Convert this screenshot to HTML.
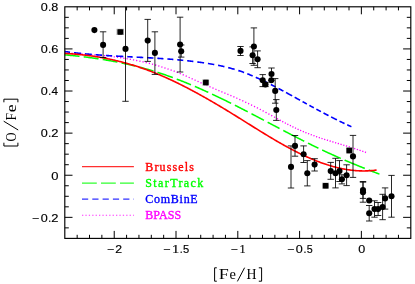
<!DOCTYPE html>
<html><head><meta charset="utf-8"><title>plot</title>
<style>html,body{margin:0;padding:0;background:#fff;}svg{display:block;will-change:transform;}text{font-family:"Liberation Sans",sans-serif;}.s{font-family:"Liberation Serif",serif;}</style></head><body>
<svg width="415" height="284" viewBox="0 0 415 284">
<rect width="415" height="284" fill="#fff"/>
<g fill="none" stroke-linecap="butt" stroke-linejoin="round">
<path d="M64.80,52.91 L65.55,52.95 L66.31,52.99 L67.06,53.03 L67.82,53.07 L68.57,53.11 L69.33,53.15 L70.08,53.19 L70.84,53.23 L71.59,53.28 L72.35,53.32 L73.10,53.36 L73.86,53.40 L74.61,53.45 L75.37,53.49 L76.12,53.53 L76.88,53.58 L77.63,53.62 L78.39,53.67 L79.14,53.72 L79.90,53.76 L80.65,53.81 L81.41,53.86 L82.16,53.91 L82.92,53.96 L83.67,54.01 L84.43,54.06 L85.18,54.11 L85.94,54.16 L86.69,54.22 L87.45,54.27 L88.20,54.33 L88.96,54.38 L89.71,54.44 L90.47,54.49 L91.22,54.55 L91.98,54.61 L92.73,54.67 L93.49,54.73 L94.24,54.80 L95.00,54.86 L95.75,54.92 L96.51,54.99 L97.26,55.05 L98.02,55.12 L98.77,55.19 L99.52,55.26 L100.28,55.33 L101.03,55.40 L101.79,55.47 L102.54,55.55 L103.30,55.62 L104.05,55.70 L104.81,55.78 L105.56,55.86 L106.32,55.94 L107.07,56.02 L107.83,56.10 L108.58,56.19 L109.34,56.28 L110.09,56.36 L110.85,56.45 L111.60,56.54 L112.36,56.63 L113.11,56.73 L113.87,56.82 L114.62,56.92 L115.38,57.02 L116.13,57.12 L116.89,57.22 L117.64,57.32 L118.40,57.43 L119.15,57.53 L119.91,57.64 L120.66,57.75 L121.42,57.86 L122.17,57.97 L122.93,58.09 L123.68,58.21 L124.44,58.33 L125.19,58.45 L125.95,58.57 L126.70,58.69 L127.46,58.82 L128.21,58.95 L128.97,59.08 L129.72,59.21 L130.48,59.34 L131.23,59.48 L131.98,59.62 L132.74,59.76 L133.49,59.90 L134.25,60.04 L135.00,60.19 L135.76,60.34 L136.51,60.49 L137.27,60.64 L138.02,60.80 L138.78,60.95 L139.53,61.11 L140.29,61.27 L141.04,61.44 L141.80,61.61 L142.55,61.77 L143.31,61.94 L144.06,62.12 L144.82,62.29 L145.57,62.47 L146.33,62.65 L147.08,62.84 L147.84,63.02 L148.59,63.21 L149.35,63.40 L150.10,63.59 L150.86,63.79 L151.61,63.99 L152.37,64.19 L153.12,64.39 L153.88,64.60 L154.63,64.81 L155.39,65.02 L156.14,65.23 L156.90,65.45 L157.65,65.67 L158.41,65.89 L159.16,66.12 L159.92,66.35 L160.67,66.58 L161.43,66.81 L162.18,67.05 L162.94,67.29 L163.69,67.53 L164.45,67.77 L165.20,68.02 L165.95,68.27 L166.71,68.53 L167.46,68.79 L168.22,69.05 L168.97,69.31 L169.73,69.58 L170.48,69.85 L171.24,70.12 L171.99,70.39 L172.75,70.67 L173.50,70.96 L174.26,71.24 L175.01,71.53 L175.77,71.82 L176.52,72.12 L177.28,72.42 L178.03,72.72 L178.79,73.02 L179.54,73.33 L180.30,73.64 L181.05,73.96 L181.81,74.27 L182.56,74.59 L183.32,74.92 L184.07,75.24 L184.83,75.57 L185.58,75.90 L186.34,76.23 L187.09,76.56 L187.85,76.89 L188.60,77.23 L189.36,77.57 L190.11,77.91 L190.87,78.24 L191.62,78.58 L192.38,78.93 L193.13,79.27 L193.89,79.61 L194.64,79.95 L195.40,80.30 L196.15,80.64 L196.91,80.98 L197.66,81.33 L198.42,81.67 L199.17,82.01 L199.92,82.35 L200.68,82.69 L201.43,83.03 L202.19,83.37 L202.94,83.71 L203.70,84.05 L204.45,84.38 L205.21,84.71 L205.96,85.05 L206.72,85.38 L207.47,85.70 L208.23,86.03 L208.98,86.36 L209.74,86.68 L210.49,87.01 L211.25,87.33 L212.00,87.65 L212.76,87.97 L213.51,88.29 L214.27,88.61 L215.02,88.93 L215.78,89.25 L216.53,89.56 L217.29,89.88 L218.04,90.20 L218.80,90.51 L219.55,90.83 L220.31,91.15 L221.06,91.46 L221.82,91.78 L222.57,92.09 L223.33,92.41 L224.08,92.73 L224.84,93.05 L225.59,93.36 L226.35,93.68 L227.10,94.00 L227.86,94.32 L228.61,94.64 L229.37,94.96 L230.12,95.29 L230.88,95.61 L231.63,95.93 L232.38,96.26 L233.14,96.59 L233.89,96.92 L234.65,97.25 L235.40,97.58 L236.16,97.91 L236.91,98.25 L237.67,98.58 L238.42,98.92 L239.18,99.26 L239.93,99.60 L240.69,99.94 L241.44,100.29 L242.20,100.64 L242.95,100.98 L243.71,101.33 L244.46,101.68 L245.22,102.04 L245.97,102.39 L246.73,102.75 L247.48,103.11 L248.24,103.47 L248.99,103.83 L249.75,104.19 L250.50,104.56 L251.26,104.92 L252.01,105.29 L252.77,105.67 L253.52,106.04 L254.28,106.41 L255.03,106.79 L255.79,107.17 L256.54,107.55 L257.30,107.94 L258.05,108.32 L258.81,108.71 L259.56,109.10 L260.32,109.49 L261.07,109.89 L261.83,110.28 L262.58,110.68 L263.34,111.08 L264.09,111.49 L264.85,111.89 L265.60,112.30 L266.35,112.71 L267.11,113.12 L267.86,113.53 L268.62,113.95 L269.37,114.36 L270.13,114.78 L270.88,115.19 L271.64,115.61 L272.39,116.03 L273.15,116.44 L273.90,116.86 L274.66,117.28 L275.41,117.69 L276.17,118.11 L276.92,118.53 L277.68,118.94 L278.43,119.36 L279.19,119.77 L279.94,120.18 L280.70,120.59 L281.45,121.00 L282.21,121.41 L282.96,121.81 L283.72,122.22 L284.47,122.62 L285.23,123.01 L285.98,123.41 L286.74,123.80 L287.49,124.19 L288.25,124.58 L289.00,124.97 L289.76,125.35 L290.51,125.72 L291.27,126.10 L292.02,126.47 L292.78,126.83 L293.53,127.20 L294.29,127.56 L295.04,127.91 L295.80,128.26 L296.55,128.61 L297.31,128.96 L298.06,129.30 L298.82,129.64 L299.57,129.97 L300.32,130.30 L301.08,130.63 L301.83,130.95 L302.59,131.28 L303.34,131.59 L304.10,131.91 L304.85,132.22 L305.61,132.53 L306.36,132.83 L307.12,133.14 L307.87,133.44 L308.63,133.73 L309.38,134.03 L310.14,134.32 L310.89,134.60 L311.65,134.89 L312.40,135.17 L313.16,135.45 L313.91,135.72 L314.67,135.99 L315.42,136.26 L316.18,136.53 L316.93,136.79 L317.69,137.06 L318.44,137.32 L319.20,137.57 L319.95,137.83 L320.71,138.08 L321.46,138.33 L322.22,138.58 L322.97,138.83 L323.73,139.07 L324.48,139.32 L325.24,139.56 L325.99,139.80 L326.75,140.04 L327.50,140.27 L328.26,140.51 L329.01,140.75 L329.77,140.98 L330.52,141.21 L331.28,141.44 L332.03,141.67 L332.78,141.90 L333.54,142.13 L334.29,142.36 L335.05,142.59 L335.80,142.82 L336.56,143.04 L337.31,143.27 L338.07,143.50 L338.82,143.72 L339.58,143.95 L340.33,144.18 L341.09,144.40 L341.84,144.63 L342.60,144.86 L343.35,145.08 L344.11,145.31 L344.86,145.54 L345.62,145.77 L346.37,146.00 L347.13,146.23 L347.88,146.46 L348.64,146.69 L349.39,146.93 L350.15,147.16 L350.90,147.40 L351.66,147.63 L352.41,147.87 L353.17,148.11 L353.92,148.35 L354.68,148.60 L355.43,148.84 L356.19,149.09 L356.94,149.34 L357.70,149.59 L358.45,149.84 L359.21,150.09 L359.96,150.35 L360.72,150.61 L361.47,150.87 L362.23,151.14 L362.98,151.40 L363.74,151.67 L364.49,151.94 L365.25,152.22 L366.00,152.49" stroke="#ff00ff" stroke-width="1.35" stroke-dasharray="0.00 0.30 1.20 2.05 1.20 2.05 1.20 2.05 1.20 2.05 1.20 2.05 1.20 2.05 1.20 2.05 1.20 2.05 1.20 2.05 1.20 2.05 1.20 2.05 1.20 2.05 1.20 2.05 1.20 2.05 1.20 2.05 1.20 2.05 1.20 2.05 1.20 2.05 1.20 2.05 1.20 2.05 1.20 2.05 1.20 2.05 1.20 2.05 1.20 2.05 1.20 2.05 1.20 2.05 1.20 2.05 1.20 2.05 1.20 2.05 1.20 2.05 1.20 2.05 1.20 2.05 1.20 2.05 1.20 2.05 1.20 2.05 1.20 2.05 1.20 2.05 1.20 2.05 1.20 2.05 1.20 2.05 1.20 2.05 1.20 2.05 1.20 2.05 1.20 2.05 1.20 2.05 1.20 2.05 1.20 2.05 1.20 2.05 1.20 2.05 1.20 2.05 1.20 2.05 1.20 2.05 1.20 2.05 1.20 2.05 1.20 2.05 1.20 2.05 1.20 2.05 1.20 2.05 1.20 2.05 1.20 2.05 1.20 2.05 1.20 2.05 1.20 2.05 1.20 2.05 1.20 2.05 1.20 2.05 1.20 2.05 1.20 2.05 1.20 2.05 1.20 2.05 1.20 1.65 1.20 1.65 1.20 1.65 1.20 1.65 1.20 1.65 1.20 1.65 1.20 1.65 1.20 1.65 1.20 1.65 1.20 1.65 1.20 1.65 1.20 1.65 1.20 1.65 1.20 1.65 1.20 1.65 1.20 1.65 1.20 1.65 1.20 1.65 1.20 1.65 1.20 1.65 1.20 1.65 1.20 1.65 1.20 1.65 1.20 1.65 1.20 1.65 1.20 1.65 1.20 1.65 1.20 1.65 1.20 1.65 1.20 1.65 1.20 1.65 1.20 1.65 1.20 5.00"/>
<path d="M64.80,51.52 L65.52,51.62 L66.24,51.72 L66.95,51.81 L67.67,51.91 L68.39,52.00 L69.11,52.09 L69.83,52.18 L70.55,52.27 L71.26,52.36 L71.98,52.45 L72.70,52.54 L73.42,52.62 L74.14,52.71 L74.86,52.79 L75.57,52.87 L76.29,52.95 L77.01,53.03 L77.73,53.11 L78.45,53.19 L79.17,53.26 L79.88,53.34 L80.60,53.41 L81.32,53.48 L82.04,53.56 L82.76,53.63 L83.48,53.70 L84.19,53.77 L84.91,53.83 L85.63,53.90 L86.35,53.97 L87.07,54.03 L87.79,54.10 L88.50,54.16 L89.22,54.22 L89.94,54.29 L90.66,54.35 L91.38,54.41 L92.10,54.47 L92.81,54.52 L93.53,54.58 L94.25,54.64 L94.97,54.70 L95.69,54.75 L96.41,54.81 L97.12,54.86 L97.84,54.91 L98.56,54.97 L99.28,55.02 L100.00,55.07 L100.71,55.12 L101.43,55.17 L102.15,55.22 L102.87,55.27 L103.59,55.32 L104.31,55.36 L105.02,55.41 L105.74,55.46 L106.46,55.50 L107.18,55.55 L107.90,55.59 L108.62,55.64 L109.33,55.68 L110.05,55.73 L110.77,55.77 L111.49,55.81 L112.21,55.85 L112.93,55.90 L113.64,55.94 L114.36,55.98 L115.08,56.02 L115.80,56.06 L116.52,56.10 L117.24,56.14 L117.95,56.18 L118.67,56.22 L119.39,56.26 L120.11,56.30 L120.83,56.33 L121.55,56.37 L122.26,56.41 L122.98,56.45 L123.70,56.49 L124.42,56.52 L125.14,56.56 L125.86,56.60 L126.57,56.64 L127.29,56.67 L128.01,56.71 L128.73,56.75 L129.45,56.78 L130.16,56.82 L130.88,56.85 L131.60,56.89 L132.32,56.93 L133.04,56.96 L133.76,57.00 L134.47,57.04 L135.19,57.07 L135.91,57.11 L136.63,57.15 L137.35,57.18 L138.07,57.22 L138.78,57.26 L139.50,57.29 L140.22,57.33 L140.94,57.37 L141.66,57.41 L142.38,57.44 L143.09,57.48 L143.81,57.52 L144.53,57.56 L145.25,57.60 L145.97,57.63 L146.69,57.67 L147.40,57.71 L148.12,57.75 L148.84,57.79 L149.56,57.83 L150.28,57.87 L151.00,57.91 L151.71,57.95 L152.43,58.00 L153.15,58.04 L153.87,58.08 L154.59,58.12 L155.31,58.17 L156.02,58.21 L156.74,58.25 L157.46,58.30 L158.18,58.34 L158.90,58.39 L159.62,58.44 L160.33,58.48 L161.05,58.53 L161.77,58.58 L162.49,58.63 L163.21,58.68 L163.92,58.72 L164.64,58.77 L165.36,58.83 L166.08,58.88 L166.80,58.93 L167.52,58.98 L168.23,59.04 L168.95,59.09 L169.67,59.14 L170.39,59.20 L171.11,59.26 L171.83,59.31 L172.54,59.37 L173.26,59.43 L173.98,59.49 L174.70,59.55 L175.42,59.61 L176.14,59.67 L176.85,59.74 L177.57,59.80 L178.29,59.86 L179.01,59.93 L179.73,60.00 L180.45,60.06 L181.16,60.13 L181.88,60.20 L182.60,60.27 L183.32,60.34 L184.04,60.41 L184.76,60.49 L185.47,60.56 L186.19,60.64 L186.91,60.71 L187.63,60.79 L188.35,60.87 L189.07,60.95 L189.78,61.03 L190.50,61.11 L191.22,61.19 L191.94,61.28 L192.66,61.36 L193.37,61.45 L194.09,61.54 L194.81,61.63 L195.53,61.72 L196.25,61.81 L196.97,61.90 L197.68,61.99 L198.40,62.09 L199.12,62.19 L199.84,62.28 L200.56,62.38 L201.28,62.48 L201.99,62.58 L202.71,62.69 L203.43,62.79 L204.15,62.90 L204.87,63.01 L205.59,63.11 L206.30,63.22 L207.02,63.34 L207.74,63.45 L208.46,63.56 L209.18,63.68 L209.90,63.80 L210.61,63.92 L211.33,64.04 L212.05,64.17 L212.77,64.29 L213.49,64.42 L214.21,64.55 L214.92,64.68 L215.64,64.82 L216.36,64.95 L217.08,65.09 L217.80,65.24 L218.52,65.38 L219.23,65.53 L219.95,65.67 L220.67,65.83 L221.39,65.98 L222.11,66.14 L222.83,66.30 L223.54,66.46 L224.26,66.62 L224.98,66.79 L225.70,66.96 L226.42,67.14 L227.13,67.32 L227.85,67.50 L228.57,67.68 L229.29,67.87 L230.01,68.06 L230.73,68.25 L231.44,68.45 L232.16,68.65 L232.88,68.86 L233.60,69.06 L234.32,69.28 L235.04,69.49 L235.75,69.71 L236.47,69.93 L237.19,70.16 L237.91,70.39 L238.63,70.63 L239.35,70.87 L240.06,71.11 L240.78,71.36 L241.50,71.61 L242.22,71.86 L242.94,72.12 L243.66,72.38 L244.37,72.65 L245.09,72.92 L245.81,73.19 L246.53,73.47 L247.25,73.74 L247.97,74.03 L248.68,74.31 L249.40,74.60 L250.12,74.90 L250.84,75.19 L251.56,75.49 L252.28,75.79 L252.99,76.10 L253.71,76.41 L254.43,76.72 L255.15,77.03 L255.87,77.35 L256.58,77.67 L257.30,77.99 L258.02,78.32 L258.74,78.64 L259.46,78.97 L260.18,79.31 L260.89,79.64 L261.61,79.98 L262.33,80.32 L263.05,80.66 L263.77,81.00 L264.49,81.35 L265.20,81.70 L265.92,82.05 L266.64,82.40 L267.36,82.76 L268.08,83.12 L268.80,83.48 L269.51,83.84 L270.23,84.20 L270.95,84.56 L271.67,84.93 L272.39,85.30 L273.11,85.67 L273.82,86.04 L274.54,86.41 L275.26,86.78 L275.98,87.16 L276.70,87.53 L277.42,87.91 L278.13,88.29 L278.85,88.67 L279.57,89.05 L280.29,89.44 L281.01,89.82 L281.73,90.21 L282.44,90.59 L283.16,90.98 L283.88,91.36 L284.60,91.75 L285.32,92.14 L286.04,92.53 L286.75,92.92 L287.47,93.31 L288.19,93.70 L288.91,94.10 L289.63,94.49 L290.34,94.88 L291.06,95.28 L291.78,95.67 L292.50,96.06 L293.22,96.46 L293.94,96.85 L294.65,97.25 L295.37,97.64 L296.09,98.04 L296.81,98.43 L297.53,98.83 L298.25,99.22 L298.96,99.62 L299.68,100.02 L300.40,100.41 L301.12,100.81 L301.84,101.20 L302.56,101.60 L303.27,102.00 L303.99,102.39 L304.71,102.79 L305.43,103.18 L306.15,103.58 L306.87,103.97 L307.58,104.37 L308.30,104.76 L309.02,105.16 L309.74,105.55 L310.46,105.94 L311.18,106.33 L311.89,106.73 L312.61,107.12 L313.33,107.51 L314.05,107.90 L314.77,108.29 L315.49,108.68 L316.20,109.07 L316.92,109.46 L317.64,109.85 L318.36,110.23 L319.08,110.62 L319.79,111.00 L320.51,111.39 L321.23,111.77 L321.95,112.15 L322.67,112.54 L323.39,112.92 L324.10,113.30 L324.82,113.68 L325.54,114.05 L326.26,114.43 L326.98,114.81 L327.70,115.18 L328.41,115.55 L329.13,115.93 L329.85,116.30 L330.57,116.67 L331.29,117.04 L332.01,117.40 L332.72,117.77 L333.44,118.13 L334.16,118.50 L334.88,118.86 L335.60,119.22 L336.32,119.58 L337.03,119.93 L337.75,120.29 L338.47,120.64 L339.19,121.00 L339.91,121.35 L340.63,121.70 L341.34,122.04 L342.06,122.39 L342.78,122.73 L343.50,123.08 L344.22,123.42 L344.94,123.76 L345.65,124.09 L346.37,124.43 L347.09,124.76 L347.81,125.09 L348.53,125.42 L349.25,125.75 L349.96,126.07 L350.68,126.39 L351.40,126.71" stroke="#0000ff" stroke-width="1.6" stroke-dasharray="5.31 3.90 7.27 3.90 6.74 3.90 6.43 3.90 6.22 3.90 7.32 3.90 5.51 3.90 6.61 3.90 6.32 3.90 6.12 3.90 6.03 3.90 6.04 3.90 6.27 3.90 6.90 3.90 6.45 3.90 6.44 3.90 6.69 3.90 6.09 3.40 5.78 3.40 5.17 3.40 4.73 3.40 5.26 3.40 5.58 2.90 7.01 2.90 6.12 2.90 4.86 2.90 5.08 2.90 5.16 2.90 5.68 2.90 6.51 2.90 5.64 2.90 4.59 0.01"/>
<path d="M64.80,54.85 L65.59,54.92 L66.38,54.99 L67.17,55.06 L67.95,55.13 L68.74,55.21 L69.53,55.28 L70.32,55.36 L71.11,55.43 L71.90,55.51 L72.69,55.59 L73.48,55.67 L74.26,55.75 L75.05,55.83 L75.84,55.92 L76.63,56.00 L77.42,56.09 L78.21,56.17 L79.00,56.26 L79.79,56.35 L80.57,56.44 L81.36,56.53 L82.15,56.62 L82.94,56.72 L83.73,56.81 L84.52,56.91 L85.31,57.00 L86.10,57.10 L86.88,57.20 L87.67,57.30 L88.46,57.40 L89.25,57.51 L90.04,57.61 L90.83,57.72 L91.62,57.82 L92.41,57.93 L93.19,58.04 L93.98,58.15 L94.77,58.27 L95.56,58.38 L96.35,58.49 L97.14,58.61 L97.93,58.73 L98.72,58.85 L99.50,58.97 L100.29,59.09 L101.08,59.21 L101.87,59.34 L102.66,59.46 L103.45,59.59 L104.24,59.72 L105.02,59.85 L105.81,59.98 L106.60,60.12 L107.39,60.25 L108.18,60.39 L108.97,60.53 L109.76,60.67 L110.55,60.81 L111.33,60.95 L112.12,61.10 L112.91,61.24 L113.70,61.39 L114.49,61.54 L115.28,61.69 L116.07,61.84 L116.86,61.99 L117.64,62.15 L118.43,62.31 L119.22,62.47 L120.01,62.63 L120.80,62.79 L121.59,62.95 L122.38,63.12 L123.17,63.28 L123.95,63.45 L124.74,63.62 L125.53,63.80 L126.32,63.97 L127.11,64.15 L127.90,64.32 L128.69,64.50 L129.48,64.68 L130.26,64.87 L131.05,65.05 L131.84,65.24 L132.63,65.42 L133.42,65.61 L134.21,65.81 L135.00,66.00 L135.78,66.20 L136.57,66.39 L137.36,66.59 L138.15,66.79 L138.94,67.00 L139.73,67.20 L140.52,67.41 L141.31,67.62 L142.09,67.83 L142.88,68.04 L143.67,68.26 L144.46,68.47 L145.25,68.69 L146.04,68.91 L146.83,69.13 L147.62,69.36 L148.40,69.58 L149.19,69.81 L149.98,70.04 L150.77,70.28 L151.56,70.51 L152.35,70.75 L153.14,70.99 L153.93,71.23 L154.71,71.47 L155.50,71.71 L156.29,71.96 L157.08,72.21 L157.87,72.46 L158.66,72.72 L159.45,72.97 L160.24,73.23 L161.02,73.49 L161.81,73.75 L162.60,74.02 L163.39,74.28 L164.18,74.55 L164.97,74.82 L165.76,75.09 L166.55,75.37 L167.33,75.64 L168.12,75.92 L168.91,76.20 L169.70,76.48 L170.49,76.77 L171.28,77.05 L172.07,77.34 L172.85,77.63 L173.64,77.92 L174.43,78.22 L175.22,78.51 L176.01,78.81 L176.80,79.11 L177.59,79.41 L178.38,79.71 L179.16,80.02 L179.95,80.32 L180.74,80.63 L181.53,80.94 L182.32,81.25 L183.11,81.57 L183.90,81.88 L184.69,82.20 L185.47,82.52 L186.26,82.84 L187.05,83.16 L187.84,83.48 L188.63,83.81 L189.42,84.13 L190.21,84.46 L191.00,84.79 L191.78,85.12 L192.57,85.45 L193.36,85.79 L194.15,86.12 L194.94,86.46 L195.73,86.80 L196.52,87.14 L197.31,87.48 L198.09,87.83 L198.88,88.17 L199.67,88.52 L200.46,88.87 L201.25,89.22 L202.04,89.57 L202.83,89.92 L203.62,90.27 L204.40,90.63 L205.19,90.98 L205.98,91.34 L206.77,91.70 L207.56,92.06 L208.35,92.42 L209.14,92.78 L209.92,93.14 L210.71,93.51 L211.50,93.88 L212.29,94.24 L213.08,94.61 L213.87,94.98 L214.66,95.35 L215.45,95.73 L216.23,96.10 L217.02,96.47 L217.81,96.85 L218.60,97.23 L219.39,97.60 L220.18,97.98 L220.97,98.36 L221.76,98.74 L222.54,99.12 L223.33,99.51 L224.12,99.89 L224.91,100.28 L225.70,100.66 L226.49,101.05 L227.28,101.44 L228.07,101.83 L228.85,102.22 L229.64,102.61 L230.43,103.00 L231.22,103.39 L232.01,103.79 L232.80,104.18 L233.59,104.57 L234.38,104.97 L235.16,105.37 L235.95,105.77 L236.74,106.16 L237.53,106.56 L238.32,106.96 L239.11,107.36 L239.90,107.77 L240.68,108.17 L241.47,108.57 L242.26,108.97 L243.05,109.38 L243.84,109.78 L244.63,110.19 L245.42,110.60 L246.21,111.00 L246.99,111.41 L247.78,111.82 L248.57,112.23 L249.36,112.64 L250.15,113.05 L250.94,113.46 L251.73,113.87 L252.52,114.28 L253.30,114.69 L254.09,115.10 L254.88,115.51 L255.67,115.93 L256.46,116.34 L257.25,116.75 L258.04,117.17 L258.83,117.58 L259.61,118.00 L260.40,118.41 L261.19,118.83 L261.98,119.24 L262.77,119.66 L263.56,120.07 L264.35,120.49 L265.14,120.90 L265.92,121.32 L266.71,121.74 L267.50,122.15 L268.29,122.57 L269.08,122.98 L269.87,123.40 L270.66,123.82 L271.45,124.23 L272.23,124.65 L273.02,125.07 L273.81,125.48 L274.60,125.90 L275.39,126.31 L276.18,126.73 L276.97,127.15 L277.75,127.56 L278.54,127.98 L279.33,128.39 L280.12,128.81 L280.91,129.22 L281.70,129.63 L282.49,130.05 L283.28,130.46 L284.06,130.87 L284.85,131.29 L285.64,131.70 L286.43,132.11 L287.22,132.52 L288.01,132.93 L288.80,133.34 L289.59,133.75 L290.37,134.16 L291.16,134.57 L291.95,134.98 L292.74,135.39 L293.53,135.80 L294.32,136.20 L295.11,136.61 L295.90,137.01 L296.68,137.42 L297.47,137.82 L298.26,138.23 L299.05,138.63 L299.84,139.03 L300.63,139.43 L301.42,139.83 L302.21,140.23 L302.99,140.63 L303.78,141.03 L304.57,141.42 L305.36,141.82 L306.15,142.22 L306.94,142.61 L307.73,143.00 L308.52,143.39 L309.30,143.79 L310.09,144.18 L310.88,144.56 L311.67,144.95 L312.46,145.34 L313.25,145.73 L314.04,146.11 L314.82,146.49 L315.61,146.88 L316.40,147.26 L317.19,147.64 L317.98,148.02 L318.77,148.39 L319.56,148.77 L320.35,149.14 L321.13,149.52 L321.92,149.89 L322.71,150.26 L323.50,150.63 L324.29,151.00 L325.08,151.37 L325.87,151.73 L326.66,152.10 L327.44,152.46 L328.23,152.83 L329.02,153.19 L329.81,153.55 L330.60,153.91 L331.39,154.27 L332.18,154.62 L332.97,154.98 L333.75,155.33 L334.54,155.69 L335.33,156.04 L336.12,156.39 L336.91,156.74 L337.70,157.09 L338.49,157.44 L339.28,157.78 L340.06,158.13 L340.85,158.47 L341.64,158.82 L342.43,159.16 L343.22,159.50 L344.01,159.84 L344.80,160.18 L345.58,160.52 L346.37,160.86 L347.16,161.19 L347.95,161.53 L348.74,161.86 L349.53,162.19 L350.32,162.53 L351.11,162.86 L351.89,163.19 L352.68,163.52 L353.47,163.84 L354.26,164.17 L355.05,164.50 L355.84,164.82 L356.63,165.15 L357.42,165.47 L358.20,165.79 L358.99,166.11 L359.78,166.43 L360.57,166.75 L361.36,167.07 L362.15,167.39 L362.94,167.71 L363.73,168.02 L364.51,168.34 L365.30,168.65 L366.09,168.96 L366.88,169.27 L367.67,169.59 L368.46,169.90 L369.25,170.21 L370.04,170.51 L370.82,170.82 L371.61,171.13 L372.40,171.44 L373.19,171.74 L373.98,172.04 L374.77,172.35 L375.56,172.65 L376.35,172.95 L377.13,173.25 L377.92,173.55 L378.71,173.85 L379.50,174.15" stroke="#00ff00" stroke-width="1.55" stroke-dasharray="14.79 4.20 14.98 4.20 15.00 4.20 14.26 4.20 14.51 4.20 16.21 4.20 15.30 4.20 14.73 4.20 21.12 4.20 14.44 4.20 14.09 4.20 13.43 4.20 23.58 4.20 11.60 4.20 20.40 4.20 21.77 4.20 11.62 0.01"/>
<path d="M64.80,53.43 L65.58,53.47 L66.36,53.51 L67.14,53.55 L67.93,53.60 L68.71,53.64 L69.49,53.69 L70.27,53.74 L71.05,53.80 L71.83,53.85 L72.61,53.91 L73.40,53.97 L74.18,54.03 L74.96,54.09 L75.74,54.16 L76.52,54.23 L77.30,54.30 L78.08,54.37 L78.87,54.44 L79.65,54.52 L80.43,54.60 L81.21,54.68 L81.99,54.76 L82.77,54.85 L83.55,54.93 L84.34,55.02 L85.12,55.12 L85.90,55.21 L86.68,55.31 L87.46,55.40 L88.24,55.51 L89.03,55.61 L89.81,55.71 L90.59,55.82 L91.37,55.93 L92.15,56.04 L92.93,56.16 L93.71,56.27 L94.50,56.39 L95.28,56.51 L96.06,56.64 L96.84,56.76 L97.62,56.89 L98.40,57.02 L99.18,57.15 L99.97,57.29 L100.75,57.42 L101.53,57.56 L102.31,57.70 L103.09,57.85 L103.87,58.00 L104.65,58.14 L105.44,58.30 L106.22,58.45 L107.00,58.61 L107.78,58.76 L108.56,58.92 L109.34,59.09 L110.12,59.25 L110.91,59.42 L111.69,59.59 L112.47,59.76 L113.25,59.94 L114.03,60.12 L114.81,60.30 L115.59,60.48 L116.38,60.66 L117.16,60.85 L117.94,61.04 L118.72,61.23 L119.50,61.43 L120.28,61.63 L121.06,61.83 L121.85,62.03 L122.63,62.23 L123.41,62.44 L124.19,62.65 L124.97,62.86 L125.75,63.08 L126.53,63.29 L127.32,63.51 L128.10,63.74 L128.88,63.96 L129.66,64.19 L130.44,64.42 L131.22,64.65 L132.01,64.89 L132.79,65.13 L133.57,65.37 L134.35,65.61 L135.13,65.85 L135.91,66.10 L136.69,66.35 L137.48,66.61 L138.26,66.86 L139.04,67.12 L139.82,67.38 L140.60,67.65 L141.38,67.91 L142.16,68.18 L142.95,68.46 L143.73,68.73 L144.51,69.01 L145.29,69.29 L146.07,69.57 L146.85,69.86 L147.63,70.14 L148.42,70.44 L149.20,70.73 L149.98,71.03 L150.76,71.32 L151.54,71.63 L152.32,71.93 L153.10,72.24 L153.89,72.55 L154.67,72.86 L155.45,73.17 L156.23,73.49 L157.01,73.81 L157.79,74.13 L158.57,74.46 L159.36,74.78 L160.14,75.11 L160.92,75.45 L161.70,75.78 L162.48,76.12 L163.26,76.46 L164.04,76.80 L164.83,77.14 L165.61,77.49 L166.39,77.84 L167.17,78.19 L167.95,78.54 L168.73,78.90 L169.51,79.26 L170.30,79.62 L171.08,79.98 L171.86,80.34 L172.64,80.71 L173.42,81.08 L174.20,81.45 L174.98,81.82 L175.77,82.20 L176.55,82.57 L177.33,82.95 L178.11,83.33 L178.89,83.72 L179.67,84.10 L180.46,84.49 L181.24,84.88 L182.02,85.27 L182.80,85.66 L183.58,86.06 L184.36,86.46 L185.14,86.86 L185.93,87.26 L186.71,87.66 L187.49,88.06 L188.27,88.47 L189.05,88.88 L189.83,89.29 L190.61,89.70 L191.40,90.11 L192.18,90.53 L192.96,90.95 L193.74,91.37 L194.52,91.79 L195.30,92.21 L196.08,92.63 L196.87,93.06 L197.65,93.48 L198.43,93.91 L199.21,94.34 L199.99,94.78 L200.77,95.21 L201.55,95.64 L202.34,96.08 L203.12,96.52 L203.90,96.96 L204.68,97.40 L205.46,97.84 L206.24,98.28 L207.02,98.73 L207.81,99.17 L208.59,99.62 L209.37,100.07 L210.15,100.52 L210.93,100.97 L211.71,101.43 L212.49,101.88 L213.28,102.34 L214.06,102.79 L214.84,103.25 L215.62,103.71 L216.40,104.17 L217.18,104.63 L217.96,105.09 L218.75,105.56 L219.53,106.02 L220.31,106.49 L221.09,106.96 L221.87,107.42 L222.65,107.89 L223.44,108.36 L224.22,108.84 L225.00,109.31 L225.78,109.78 L226.56,110.25 L227.34,110.73 L228.12,111.21 L228.91,111.68 L229.69,112.16 L230.47,112.64 L231.25,113.12 L232.03,113.60 L232.81,114.08 L233.59,114.56 L234.38,115.05 L235.16,115.53 L235.94,116.01 L236.72,116.50 L237.50,116.98 L238.28,117.47 L239.06,117.96 L239.85,118.44 L240.63,118.93 L241.41,119.42 L242.19,119.91 L242.97,120.39 L243.75,120.88 L244.53,121.37 L245.32,121.86 L246.10,122.35 L246.88,122.84 L247.66,123.33 L248.44,123.81 L249.22,124.30 L250.00,124.79 L250.79,125.28 L251.57,125.77 L252.35,126.26 L253.13,126.74 L253.91,127.23 L254.69,127.72 L255.47,128.20 L256.26,128.69 L257.04,129.17 L257.82,129.66 L258.60,130.14 L259.38,130.62 L260.16,131.11 L260.94,131.59 L261.73,132.07 L262.51,132.55 L263.29,133.03 L264.07,133.51 L264.85,133.98 L265.63,134.46 L266.42,134.93 L267.20,135.41 L267.98,135.88 L268.76,136.35 L269.54,136.82 L270.32,137.29 L271.10,137.75 L271.89,138.22 L272.67,138.68 L273.45,139.15 L274.23,139.61 L275.01,140.07 L275.79,140.52 L276.57,140.98 L277.36,141.43 L278.14,141.88 L278.92,142.34 L279.70,142.78 L280.48,143.23 L281.26,143.67 L282.04,144.12 L282.83,144.56 L283.61,145.00 L284.39,145.43 L285.17,145.87 L285.95,146.30 L286.73,146.73 L287.51,147.15 L288.30,147.58 L289.08,148.00 L289.86,148.42 L290.64,148.84 L291.42,149.25 L292.20,149.66 L292.98,150.07 L293.77,150.48 L294.55,150.88 L295.33,151.28 L296.11,151.68 L296.89,152.07 L297.67,152.47 L298.45,152.86 L299.24,153.24 L300.02,153.63 L300.80,154.01 L301.58,154.38 L302.36,154.76 L303.14,155.13 L303.92,155.49 L304.71,155.86 L305.49,156.22 L306.27,156.57 L307.05,156.93 L307.83,157.28 L308.61,157.63 L309.39,157.97 L310.18,158.31 L310.96,158.65 L311.74,158.98 L312.52,159.31 L313.30,159.63 L314.08,159.95 L314.87,160.27 L315.65,160.59 L316.43,160.89 L317.21,161.20 L317.99,161.50 L318.77,161.80 L319.55,162.10 L320.34,162.39 L321.12,162.67 L321.90,162.95 L322.68,163.23 L323.46,163.50 L324.24,163.77 L325.02,164.04 L325.81,164.30 L326.59,164.55 L327.37,164.81 L328.15,165.05 L328.93,165.30 L329.71,165.53 L330.49,165.77 L331.28,166.00 L332.06,166.22 L332.84,166.44 L333.62,166.66 L334.40,166.87 L335.18,167.07 L335.96,167.27 L336.75,167.47 L337.53,167.66 L338.31,167.84 L339.09,168.02 L339.87,168.20 L340.65,168.37 L341.43,168.54 L342.22,168.70 L343.00,168.85 L343.78,169.00 L344.56,169.15 L345.34,169.29 L346.12,169.42 L346.90,169.55 L347.69,169.67 L348.47,169.79 L349.25,169.90 L350.03,170.01 L350.81,170.11 L351.59,170.20 L352.37,170.29 L353.16,170.38 L353.94,170.46 L354.72,170.53 L355.50,170.59 L356.28,170.66 L357.06,170.71 L357.85,170.76 L358.63,170.80 L359.41,170.84 L360.19,170.87 L360.97,170.89 L361.75,170.91 L362.53,170.93 L363.32,170.93 L364.10,170.93 L364.88,170.93 L365.66,170.91 L366.44,170.89 L367.22,170.87 L368.00,170.84 L368.79,170.80 L369.57,170.75 L370.35,170.70 L371.13,170.64 L371.91,170.58 L372.69,170.51 L373.47,170.43 L374.26,170.34 L375.04,170.25 L375.82,170.15 L376.60,170.05" stroke="#ff0000" stroke-width="1.6"/>
</g>
<g stroke="#000" stroke-width="0.85" fill="none">
<path d="M103.1,31.8V57.5M99.9,31.8h6.4M99.9,57.5h6.4"/>
<path d="M125.5,6.8V101.3M122.3,101.3h6.4"/>
<path d="M147.7,19.4V61.4M144.5,19.4h6.4M144.5,61.4h6.4"/>
<path d="M154.9,31.8V74.4M151.7,31.8h6.4M151.7,74.4h6.4"/>
<path d="M180.1,17.2V72.0M176.9,17.2h6.4M176.9,72.0h6.4"/>
<path d="M181.2,45.0V57.1M178.0,45.0h6.4M178.0,57.1h6.4"/>
<path d="M240.5,46.5V55.5M237.3,46.5h6.4M237.3,55.5h6.4"/>
<path d="M253.9,27.9V65.3M250.7,27.9h6.4M250.7,65.3h6.4"/>
<path d="M252.6,46.9V63.5M249.4,46.9h6.4M249.4,63.5h6.4"/>
<path d="M257.6,50.9V67.7M254.4,50.9h6.4M254.4,67.7h6.4"/>
<path d="M271.5,68.0V80.3M268.3,68.0h6.4M268.3,80.3h6.4"/>
<path d="M262.7,74.6V86.6M259.5,74.6h6.4M259.5,86.6h6.4"/>
<path d="M265.5,82.4V86.6M262.3,82.4h6.4M262.3,86.6h6.4"/>
<path d="M275.2,78.6V103.2M272.0,78.6h6.4M272.0,103.2h6.4"/>
<path d="M276.3,99.6V120.4M273.1,99.6h6.4M273.1,120.4h6.4"/>
<path d="M295.0,135.5V156.2M291.8,135.5h6.4M291.8,156.2h6.4"/>
<path d="M303.6,145.9V162.5M300.4,145.9h6.4M300.4,162.5h6.4"/>
<path d="M291.0,145.9V188.0M287.8,145.9h6.4M287.8,188.0h6.4"/>
<path d="M314.6,158.7V171.0M311.4,158.7h6.4M311.4,171.0h6.4"/>
<path d="M307.3,160.6V185.9M304.1,160.6h6.4M304.1,185.9h6.4"/>
<path d="M330.7,162.4V179.3M327.5,162.4h6.4M327.5,179.3h6.4"/>
<path d="M335.5,158.3V187.9M332.3,158.3h6.4M332.3,187.9h6.4"/>
<path d="M339.5,160.6V181.5M336.3,160.6h6.4M336.3,181.5h6.4"/>
<path d="M346.6,164.8V185.6M343.4,164.8h6.4M343.4,185.6h6.4"/>
<path d="M353.0,135.4V177.4M349.8,135.4h6.4M349.8,177.4h6.4"/>
<path d="M341.9,174.8V183.9M338.7,174.8h6.4M338.7,183.9h6.4"/>
<path d="M363.0,181.5V198.4M359.8,181.5h6.4M359.8,198.4h6.4"/>
<path d="M363.0,182.2V202.2M359.8,182.2h6.4M359.8,202.2h6.4"/>
<path d="M391.5,175.4V217.2M388.3,175.4h6.4M388.3,217.2h6.4"/>
<path d="M369.2,205.5V221.0M366.0,205.5h6.4M366.0,221.0h6.4"/>
<path d="M374.5,200.8V217.2M371.3,200.8h6.4M371.3,217.2h6.4"/>
<path d="M378.1,202.5V215.5M374.9,202.5h6.4M374.9,215.5h6.4"/>
<path d="M382.6,194.3V219.7M379.4,194.3h6.4M379.4,219.7h6.4"/>
<path d="M385.1,187.9V209.1M381.9,187.9h6.4M381.9,209.1h6.4"/>
</g>
<rect x="116.6" y="28.8" width="7.4" height="6.2" fill="#999"/>
<rect x="117.55" y="29.15" width="5.5" height="5.5" rx="0.8" fill="#000"/>
<rect x="202.5" y="79.4" width="6.6" height="6.2" fill="#999"/>
<rect x="203.05" y="79.75" width="5.5" height="5.5" rx="0.8" fill="#000"/>
<rect x="322.3" y="182.7" width="6.6" height="6.2" fill="#999"/>
<rect x="322.85" y="183.05" width="5.5" height="5.5" rx="0.8" fill="#000"/>
<rect x="346.0" y="147.4" width="6.6" height="6.2" fill="#999"/>
<rect x="346.55" y="147.75" width="5.5" height="5.5" rx="0.8" fill="#000"/>
<circle cx="94.4" cy="30.1" r="3.05" fill="#000"/>
<circle cx="103.1" cy="44.9" r="3.05" fill="#000"/>
<circle cx="125.5" cy="48.9" r="3.05" fill="#000"/>
<circle cx="147.7" cy="40.6" r="3.05" fill="#000"/>
<circle cx="154.9" cy="52.9" r="3.05" fill="#000"/>
<circle cx="180.1" cy="44.5" r="3.05" fill="#000"/>
<circle cx="181.2" cy="51.2" r="3.05" fill="#000"/>
<circle cx="240.5" cy="50.9" r="3.05" fill="#000"/>
<circle cx="253.9" cy="46.5" r="3.05" fill="#000"/>
<circle cx="252.6" cy="55.2" r="3.05" fill="#000"/>
<circle cx="257.6" cy="59.3" r="3.05" fill="#000"/>
<circle cx="271.5" cy="74.0" r="3.05" fill="#000"/>
<circle cx="271.3" cy="80.3" r="3.05" fill="#000"/>
<circle cx="262.7" cy="80.3" r="3.05" fill="#000"/>
<circle cx="265.5" cy="84.5" r="3.05" fill="#000"/>
<circle cx="275.2" cy="90.9" r="3.05" fill="#000"/>
<circle cx="276.3" cy="110.0" r="3.05" fill="#000"/>
<circle cx="295.0" cy="145.9" r="3.05" fill="#000"/>
<circle cx="303.6" cy="154.3" r="3.05" fill="#000"/>
<circle cx="291.0" cy="166.9" r="3.05" fill="#000"/>
<circle cx="314.6" cy="164.6" r="3.05" fill="#000"/>
<circle cx="307.3" cy="173.3" r="3.05" fill="#000"/>
<circle cx="330.7" cy="171.1" r="3.05" fill="#000"/>
<circle cx="335.5" cy="173.3" r="3.05" fill="#000"/>
<circle cx="339.5" cy="171.1" r="3.05" fill="#000"/>
<circle cx="346.6" cy="175.3" r="3.05" fill="#000"/>
<circle cx="353.0" cy="156.4" r="3.05" fill="#000"/>
<circle cx="341.9" cy="179.3" r="3.05" fill="#000"/>
<circle cx="363.0" cy="190.0" r="3.05" fill="#000"/>
<circle cx="363.0" cy="192.2" r="3.05" fill="#000"/>
<circle cx="391.5" cy="196.3" r="3.05" fill="#000"/>
<circle cx="369.2" cy="200.5" r="3.05" fill="#000"/>
<circle cx="369.2" cy="213.3" r="3.05" fill="#000"/>
<circle cx="374.5" cy="209.1" r="3.05" fill="#000"/>
<circle cx="378.1" cy="209.1" r="3.05" fill="#000"/>
<circle cx="382.6" cy="207.1" r="3.05" fill="#000"/>
<circle cx="385.1" cy="198.4" r="3.05" fill="#000"/>
<rect x="64.8" y="6.8" width="346.0" height="231.6" fill="none" stroke="#000" stroke-width="1.15"/>
<path d="M77.16,238.4v-3.6M77.16,6.8v3.6M89.51,238.4v-3.6M89.51,6.8v3.6M101.87,238.4v-3.6M101.87,6.8v3.6M114.23,238.4v-7.5M114.23,6.8v7.5M126.59,238.4v-3.6M126.59,6.8v3.6M138.94,238.4v-3.6M138.94,6.8v3.6M151.30,238.4v-3.6M151.30,6.8v3.6M163.66,238.4v-3.6M163.66,6.8v3.6M176.01,238.4v-7.5M176.01,6.8v7.5M188.37,238.4v-3.6M188.37,6.8v3.6M200.73,238.4v-3.6M200.73,6.8v3.6M213.09,238.4v-3.6M213.09,6.8v3.6M225.44,238.4v-3.6M225.44,6.8v3.6M237.80,238.4v-7.5M237.80,6.8v7.5M250.16,238.4v-3.6M250.16,6.8v3.6M262.51,238.4v-3.6M262.51,6.8v3.6M274.87,238.4v-3.6M274.87,6.8v3.6M287.23,238.4v-3.6M287.23,6.8v3.6M299.59,238.4v-7.5M299.59,6.8v7.5M311.94,238.4v-3.6M311.94,6.8v3.6M324.30,238.4v-3.6M324.30,6.8v3.6M336.66,238.4v-3.6M336.66,6.8v3.6M349.01,238.4v-3.6M349.01,6.8v3.6M361.37,238.4v-7.5M361.37,6.8v7.5M373.73,238.4v-3.6M373.73,6.8v3.6M386.09,238.4v-3.6M386.09,6.8v3.6M398.44,238.4v-3.6M398.44,6.8v3.6M64.8,227.87h4.0M410.8,227.87h-4.0M64.8,217.35h7.7M410.8,217.35h-7.7M64.8,206.82h4.0M410.8,206.82h-4.0M64.8,196.29h4.0M410.8,196.29h-4.0M64.8,185.76h4.0M410.8,185.76h-4.0M64.8,175.24h7.7M410.8,175.24h-7.7M64.8,164.71h4.0M410.8,164.71h-4.0M64.8,154.18h4.0M410.8,154.18h-4.0M64.8,143.65h4.0M410.8,143.65h-4.0M64.8,133.13h7.7M410.8,133.13h-7.7M64.8,122.60h4.0M410.8,122.60h-4.0M64.8,112.07h4.0M410.8,112.07h-4.0M64.8,101.55h4.0M410.8,101.55h-4.0M64.8,91.02h7.7M410.8,91.02h-7.7M64.8,80.49h4.0M410.8,80.49h-4.0M64.8,69.96h4.0M410.8,69.96h-4.0M64.8,59.44h4.0M410.8,59.44h-4.0M64.8,48.91h7.7M410.8,48.91h-7.7M64.8,38.38h4.0M410.8,38.38h-4.0M64.8,27.85h4.0M410.8,27.85h-4.0M64.8,17.33h4.0M410.8,17.33h-4.0" stroke="#000" stroke-width="1.0" fill="none"/>
<text transform="translate(40.66,11.10) scale(1.141,1)" font-size="11.0" fill="#000" stroke="#000" stroke-width="0.15">0</text>
<text transform="translate(48.29,11.10) scale(0.955,1)" font-size="11.0" fill="#000" stroke="#000" stroke-width="0.15">.</text>
<text transform="translate(51.30,11.10) scale(1.143,1)" font-size="11.0" fill="#000" stroke="#000" stroke-width="0.15">8</text>
<text transform="translate(40.66,53.20) scale(1.141,1)" font-size="11.0" fill="#000" stroke="#000" stroke-width="0.15">0</text>
<text transform="translate(48.29,53.20) scale(0.955,1)" font-size="11.0" fill="#000" stroke="#000" stroke-width="0.15">.</text>
<text transform="translate(51.20,53.20) scale(1.162,1)" font-size="11.0" fill="#000" stroke="#000" stroke-width="0.15">6</text>
<text transform="translate(40.66,95.30) scale(1.141,1)" font-size="11.0" fill="#000" stroke="#000" stroke-width="0.15">0</text>
<text transform="translate(48.29,95.30) scale(0.955,1)" font-size="11.0" fill="#000" stroke="#000" stroke-width="0.15">.</text>
<text transform="translate(51.58,95.30) scale(1.064,1)" font-size="11.0" fill="#000" stroke="#000" stroke-width="0.15">4</text>
<text transform="translate(40.66,137.40) scale(1.141,1)" font-size="11.0" fill="#000" stroke="#000" stroke-width="0.15">0</text>
<text transform="translate(48.29,137.40) scale(0.955,1)" font-size="11.0" fill="#000" stroke="#000" stroke-width="0.15">.</text>
<text transform="translate(51.20,137.40) scale(1.177,1)" font-size="11.0" fill="#000" stroke="#000" stroke-width="0.15">2</text>
<text transform="translate(51.34,179.50) scale(1.179,1)" font-size="11.0" fill="#000" stroke="#000" stroke-width="0.15">0</text>
<text transform="translate(32.03,221.60) scale(1.141,1)" font-size="11.0" fill="#000" stroke="#000" stroke-width="0.15">−</text>
<text transform="translate(40.66,221.60) scale(1.141,1)" font-size="11.0" fill="#000" stroke="#000" stroke-width="0.15">0</text>
<text transform="translate(48.29,221.60) scale(0.955,1)" font-size="11.0" fill="#000" stroke="#000" stroke-width="0.15">.</text>
<text transform="translate(51.20,221.60) scale(1.177,1)" font-size="11.0" fill="#000" stroke="#000" stroke-width="0.15">2</text>
<text transform="translate(106.93,252.90) scale(1.141,1)" font-size="11.0" fill="#000" stroke="#000" stroke-width="0.15">−</text>
<text transform="translate(115.33,252.90) scale(1.117,1)" font-size="11.0" fill="#000" stroke="#000" stroke-width="0.15">2</text>
<text transform="translate(163.33,252.90) scale(1.141,1)" font-size="11.0" fill="#000" stroke="#000" stroke-width="0.15">−</text>
<text class="s" transform="translate(172.08,252.90) scale(1.238,1)" font-size="11.7" fill="#000" stroke="#000" stroke-width="0.15">1</text>
<text transform="translate(179.69,252.90) scale(0.955,1)" font-size="11.0" fill="#000" stroke="#000" stroke-width="0.15">.</text>
<text transform="translate(183.10,252.90) scale(1.016,1)" font-size="11.0" fill="#000" stroke="#000" stroke-width="0.15">5</text>
<text transform="translate(230.74,252.90) scale(1.123,1)" font-size="11.0" fill="#000" stroke="#000" stroke-width="0.15">−</text>
<text class="s" transform="translate(239.58,252.90) scale(1.044,1)" font-size="11.7" fill="#000" stroke="#000" stroke-width="0.15">1</text>
<text transform="translate(287.14,252.90) scale(1.123,1)" font-size="11.0" fill="#000" stroke="#000" stroke-width="0.15">−</text>
<text transform="translate(295.66,252.90) scale(1.141,1)" font-size="11.0" fill="#000" stroke="#000" stroke-width="0.15">0</text>
<text transform="translate(303.49,252.90) scale(0.955,1)" font-size="11.0" fill="#000" stroke="#000" stroke-width="0.15">.</text>
<text transform="translate(306.82,252.90) scale(0.978,1)" font-size="11.0" fill="#000" stroke="#000" stroke-width="0.15">5</text>
<text transform="translate(358.26,252.90) scale(1.141,1)" font-size="11.0" fill="#000" stroke="#000" stroke-width="0.15">0</text>
<g fill="none" stroke-width="1.1">
<path d="M82,166.6H133.9" stroke="#ff3030"/>
<path d="M82,183.1H133.9" stroke="#30ff30" stroke-dasharray="14.8 4.2"/>
<path d="M82,199.1H133.9" stroke="#3030ff" stroke-dasharray="6.2 4.1"/>
<path d="M82,215.3H133.9" stroke="#ff30ff" stroke-dasharray="1.3 2.1"/>
</g>
<text class="s" x="145.3" y="170.6" font-size="12" fill="#ff0000" stroke="#ff0000" stroke-width="0.35" textLength="48.7" lengthAdjust="spacing">Brussels</text>
<text class="s" x="145.3" y="186.8" font-size="12" fill="#00ff00" stroke="#00ff00" stroke-width="0.35" textLength="57.9" lengthAdjust="spacing">StarTrack</text>
<text class="s" x="145.3" y="203.0" font-size="12" fill="#0000ff" stroke="#0000ff" stroke-width="0.35" textLength="52.4" lengthAdjust="spacing">ComBinE</text>
<text class="s" x="145.3" y="219.2" font-size="12" fill="#ff00ff" stroke="#ff00ff" stroke-width="0.35" textLength="35.8" lengthAdjust="spacing">BPASS</text>
<g class="s" font-size="14.0" fill="#000">
<text class="s" x="218.7" y="279.1" textLength="10.0" lengthAdjust="spacingAndGlyphs">F</text>
<text class="s" x="229.5" y="279.1" textLength="6.4" lengthAdjust="spacingAndGlyphs">e</text>
<text class="s" x="246.5" y="279.1" textLength="10" lengthAdjust="spacingAndGlyphs">H</text>
</g>
<path d="M216.8,267.8H214.6V281.2H216.8 M258.8,267.8H261.6V281.2H258.8 M237.4,281.4L244.6,267.7" stroke="#000" stroke-width="1" fill="none"/>
<g transform="translate(16,122.5) rotate(-90)">
<text class="s" transform="translate(-19.12,-0.50) scale(0.844,1)" font-size="15.0">O</text>
<text class="s" transform="translate(2.11,-0.50) scale(0.909,1)" font-size="15.0">F</text>
<text class="s" transform="translate(10.30,-0.50) scale(1.189,1)" font-size="15.0">e</text>
<path d="M-20.2,-12.1H-23.5V1.9H-20.2 M20.2,-12.1H23.3V1.9H20.2 M-7.5,2.2L1.3,-12.3" stroke="#000" stroke-width="1" fill="none"/>
</g>
</svg></body></html>
